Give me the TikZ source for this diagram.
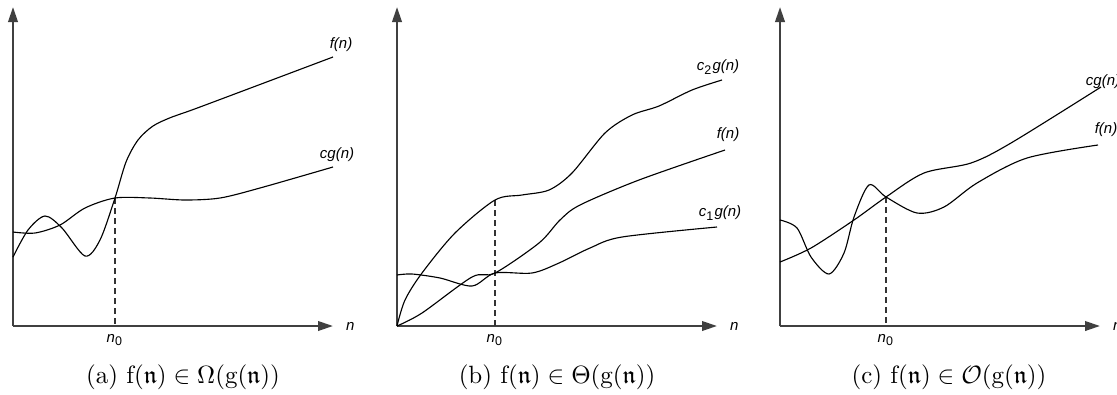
\documentclass[tikz,border=0pt]{standalone}
\usepackage{amssymb}
\usepackage{fontspec}
\newfontfamily\lblfont{Liberation Sans}
\usetikzlibrary{arrows.meta,positioning}

\newcommand{\fnn}{\mathrm{f}(\mathfrak{n})}
\newcommand{\gnn}{\mathrm{g}(\mathfrak{n})}

\begin{document}
\begin{tikzpicture}[
        x=0.4pt, y=-0.4pt,
        axis/.style={draw=black!75, line width=0.9pt, -{Triangle[length=6pt, width=3.8pt]}},
        curve/.style={black, line width=0.45pt},
        guide/.style={black!80, line width=0.45pt, dash pattern=on 2.4pt off 1.6pt},
        lbl/.style={font=\lblfont\itshape\fontsize{6}{7}\selectfont, inner sep=1pt},
        subcap/.style={font=\fontsize{10}{12}\selectfont, inner sep=0pt}
    ]
    \useasboundingbox (0,0) rectangle (1117,394);

    % (a) Omega
    \coordinate (oa) at (13,326);
    \draw[axis] (oa) -- (13,7);
    \draw[axis] (oa) -- (333,326) coordinate (xa);
    \node[lbl, right=4pt of xa] (nla) {n};
    \coordinate (ca) at (115,198);
    \draw[guide] (ca) -- (ca |- oa) coordinate (fa);
    \node[lbl, below=2pt of fa] (n0a) {n\textsubscript{\upshape 0}};
    \draw[curve] plot[smooth] coordinates {(13,257) (28,230) (45,216) (62,228) (85,256) (100,240) (115,198) (126,162) (138,140) (153,126) (172,117) (200,107) (333,57)};
    \draw[curve] plot[smooth] coordinates {(13,232) (35,233) (60,225) (85,208) (115,198) (150,198) (185,200) (220,198) (260,188) (333,167)};
    \node[lbl] (fla) at (341,45) {f(n)};
    \node[lbl] (gla) at (337,155) {cg(n)};
    \node[subcap] (capa) at (183,377) {(a) $\fnn \in \Omega(\gnn)$};

    % (b) Theta
    \coordinate (ob) at (397,326);
    \draw[axis] (ob) -- (397,7);
    \draw[axis] (ob) -- (717,326) coordinate (xb);
    \node[lbl, right=4pt of xb] (nlb) {n};
    \coordinate (cb) at (495,200);
    \draw[guide] (cb) -- (cb |- ob) coordinate (fb);
    \node[lbl, below=2pt of fb] (n0b) {n\textsubscript{\upshape 0}};
    \draw[curve] plot[smooth] coordinates {(ob) (405,300) (422,273) (455,233) (495,200) (522,195) (549,190) (572,173) (605,133) (632,115) (659,106) (692,90) (722,80)};
    \draw[curve] plot[smooth] coordinates {(ob) (422,313) (472,277) (495,273) (539,243) (560,220) (580,205) (639,180) (725,150)};
    \draw[curve] plot[smooth] coordinates {(397,275) (412,274) (440,278) (472,286) (495,273) (532,273) (559,263) (590,248) (622,237) (717,227)};
    \node[lbl] (g2lb) at (718,67) {c\textsubscript{\upshape 2}g(n)};
    \node[lbl] (flb) at (728,135) {f(n)};
    \node[lbl] (g1lb) at (720,213) {c\textsubscript{\upshape 1}g(n)};
    \node[subcap] (capb) at (557,377) {(b) $\fnn \in \Theta(\gnn)$};

    % (c) O
    \coordinate (oc) at (780,326);
    \draw[axis] (oc) -- (780,7);
    \draw[axis] (oc) -- (1100,326) coordinate (xc);
    \node[lbl, right=4pt of xc] (nlc) {n};
    \coordinate (cc) at (886,197);
    \draw[guide] (cc) -- (cc |- oc) coordinate (fc);
    \node[lbl, below=2pt of fc] (n0c) {n\textsubscript{\upshape 0}};
    \draw[curve] plot[smooth] coordinates {(780,262) (811,248) (854,220) (886,197) (924,173) (971,163) (1011,143) (1101,87)};
    \draw[curve] plot[smooth] coordinates {(780,220) (797,228) (811,257) (829,274) (844,253) (854,217) (869,185) (886,197) (917,213) (944,207) (977,183) (1027,158) (1098,145)};
    \node[lbl] (glc) at (1103,82) {cg(n)};
    \node[lbl] (flc) at (1106,130) {f(n)};
    \node[subcap] (capc) at (949,377) {(c) $\fnn \in \mathcal{O}(\gnn)$};

\end{tikzpicture}
\end{document}
